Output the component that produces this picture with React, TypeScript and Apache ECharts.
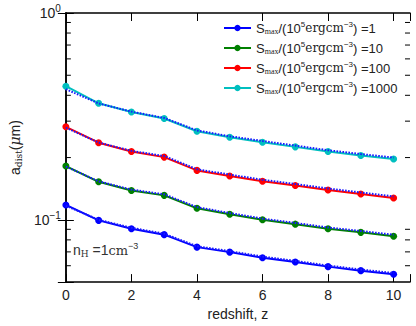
import React, { useEffect, useRef } from "react";
import * as echarts from "echarts";

const redshift = [0, 1, 2, 3, 4, 5, 6, 7, 8, 9, 10];
const smaxLabels = ["1", "10", "100", "1000"];
const colors = ["#0000ff", "#008000", "#ff0000", "#00bfbf"];

const aS1 = [0.118, 0.0994, 0.0906, 0.0848, 0.0738, 0.0698, 0.0656, 0.0626, 0.0594, 0.0568, 0.0546];
const aS10 = [0.182, 0.1527, 0.1387, 0.1313, 0.1138, 0.1064, 0.1, 0.0953, 0.0905, 0.087, 0.0833];
const aS100 = [0.2816, 0.236, 0.2138, 0.201, 0.1734, 0.163, 0.1537, 0.1466, 0.1393, 0.1332, 0.1274];
const aS1000 = [0.4425, 0.3658, 0.332, 0.309, 0.268, 0.2507, 0.2372, 0.2253, 0.2138, 0.2047, 0.1967];

const fitS1 = [0.117, 0.1, 0.0915, 0.0857, 0.0745, 0.0706, 0.0664, 0.0633, 0.0601, 0.0575, 0.0553];
const fitS10 = [0.181, 0.1535, 0.14, 0.1328, 0.1152, 0.1078, 0.1013, 0.0966, 0.0918, 0.0883, 0.0847];
const fitS100 = [0.279, 0.2365, 0.2155, 0.2035, 0.1755, 0.1655, 0.1562, 0.149, 0.1417, 0.1356, 0.1298];
const fitS1000 = [0.428, 0.3655, 0.3335, 0.311, 0.2705, 0.2535, 0.2405, 0.2285, 0.217, 0.208, 0.2];

const yMinorTicks = [0.06, 0.07, 0.08, 0.09, 0.2, 0.3, 0.4, 0.5, 0.6, 0.7, 0.8, 0.9];

const X_MIN = 0;
const X_MAX = 10.5;
const Y_MIN = 0.05;
const Y_MAX = 1;

const SANS = "'Liberation Sans', Arial, sans-serif";
const SERIF = "'DejaVu Serif', 'Liberation Serif', serif";
const SERIF2 = "'Liberation Serif', serif";

export default function App() {
  const ref = useRef<HTMLDivElement>(null);

  useEffect(() => {
    if (!ref.current) return;
    const chart = echarts.init(ref.current, null, { renderer: "svg" });

    const measured = [aS1, aS10, aS100, aS1000];
    const fits = [fitS1, fitS10, fitS100, fitS1000];
    const names = smaxLabels.map((s) => "Smax=" + s);

    const series: any[] = [];
    measured.forEach((arr, i) => {
      series.push({
        name: names[i],
        type: "line",
        data: redshift.map((z, k) => [z, arr[k]]),
        color: colors[i],
        symbol: "circle",
        symbolSize: 7,
        lineStyle: { width: 2, color: colors[i] },
        itemStyle: { color: colors[i] },
        z: 2,
      });
    });
    fits.forEach((arr, i) => {
      series.push({
        name: "fit" + i,
        type: "line",
        data: redshift.map((z, k) => [z, arr[k]]),
        showSymbol: false,
        symbol: "none",
        lineStyle: { width: 2, color: "#1a1aff", type: [1.6, 1.4] },
        z: 3,
        silent: true,
      });
    });
    series.push({
      type: "custom",
      silent: true,
      data: yMinorTicks.map((v) => [X_MIN, v]),
      renderItem: (params: any, api: any) => {
        const v = api.value(1);
        const pl = api.coord([X_MIN, v]);
        const pr = api.coord([X_MAX, v]);
        return {
          type: "group",
          children: [
            { type: "line", shape: { x1: pl[0], y1: pl[1], x2: pl[0] + 5, y2: pl[1] }, style: { stroke: "#000", lineWidth: 1 } },
            { type: "line", shape: { x1: pr[0] - 5, y1: pr[1], x2: pr[0], y2: pr[1] }, style: { stroke: "#000", lineWidth: 1 } },
          ],
        };
      },
      z: 5,
    });

    const supFmt = (v: number) => {
      const l = Math.log10(v);
      const e = Math.round(l);
      if (Math.abs(l - e) > 1e-6) return "";
      return `{b|10}{e|${e === 0 ? "0" : "−" + -e}}`;
    };

    const axisCommon = {
      axisLine: { show: true, lineStyle: { color: "#000", width: 1.5 } },
      splitLine: { show: false },
    };

    chart.setOption({
      animation: false,
      backgroundColor: "#fff",
      grid: { left: 57, right: 6, top: 13, bottom: 41, containLabel: false },
      legend: {
        data: names,
        orient: "vertical",
        left: 218,
        top: 15,
        itemWidth: 27,
        itemHeight: 8,
        itemGap: 4,
        formatter: (name: string) => {
          const i = names.indexOf(name);
          return `{s|S}{sub|max}{s|/(10}{sup|5}{rm|ergcm}{sup|−3}{t|) =${smaxLabels[i]}}`;
        },
        textStyle: {
          color: "#222",
          fontSize: 13,
          fontFamily: SANS,
          rich: {
            s: { fontSize: 13, fontFamily: SANS, color: "#222", lineHeight: 18 },
            t: { fontSize: 13, fontFamily: SANS, color: "#222", lineHeight: 18 },
            sub: { fontSize: 8, fontFamily: SERIF2, color: "#222", lineHeight: 10, padding: [6, 0, 0, 0] },
            sup: { fontSize: 8, fontFamily: SANS, color: "#222", lineHeight: 10, padding: [0, 0, 8, 0] },
            rm: { fontSize: 12, fontFamily: SERIF, color: "#222", lineHeight: 18 },
          },
        },
      },
      xAxis: [
        {
          type: "value",
          min: X_MIN,
          max: X_MAX,
          interval: 2,
          position: "bottom",
          name: "redshift, z",
          nameLocation: "middle",
          nameGap: 24,
          nameTextStyle: { fontFamily: SANS, fontSize: 14, color: "#222" },
          ...axisCommon,
          axisTick: { show: true, inside: true, length: 8, lineStyle: { color: "#000", width: 1 } },
          axisLabel: {
            fontFamily: SANS,
            fontSize: 14,
            color: "#222",
            margin: 6,
            formatter: (v: number) => (Math.abs(v % 2) < 1e-9 ? String(v) : ""),
          },
        },
        {
          type: "value",
          min: X_MIN,
          max: X_MAX,
          interval: 2,
          position: "top",
          ...axisCommon,
          axisTick: { show: true, inside: true, length: 8, lineStyle: { color: "#000", width: 1 } },
          axisLabel: { show: false },
        },
      ],
      yAxis: [
        {
          type: "log",
          logBase: 10,
          min: Y_MIN,
          max: Y_MAX,
          position: "left",
          name: "{a|a}{d|dist}{a|(}{mu|μ}{a|m)}",
          nameLocation: "middle",
          nameGap: 32,
          nameRotate: 90,
          nameTextStyle: {
            rich: {
              a: { fontFamily: SANS, fontSize: 14, color: "#222" },
              d: { fontFamily: SERIF, fontSize: 9, color: "#222", padding: [7, 0, 0, 0] },
              mu: { fontFamily: SERIF, fontSize: 14, fontStyle: "italic", color: "#222" },
            },
          },
          ...axisCommon,
          axisTick: { show: true, inside: true, length: 8, lineStyle: { color: "#000", width: 1 } },
          minorTick: { show: false },
          axisLabel: {
            formatter: supFmt,
            margin: 5,
            rich: {
              b: { fontFamily: SANS, fontSize: 14, color: "#222" },
              e: { fontFamily: SANS, fontSize: 10, color: "#222", padding: [0, 0, 9, 0] },
            },
          },
        },
        {
          type: "log",
          logBase: 10,
          min: Y_MIN,
          max: Y_MAX,
          position: "right",
          ...axisCommon,
          axisTick: { show: true, inside: true, length: 8, lineStyle: { color: "#000", width: 1 } },
          axisLabel: { show: false },
        },
      ],
      graphic: [
        {
          type: "text",
          left: 73,
          top: 241,
          style: {
            text: "{a|n}{s|H}{a| =1}{r|cm}{p|−3}",
            rich: {
              a: { fontFamily: SANS, fontSize: 14, fill: "#333" },
              s: { fontFamily: SERIF, fontSize: 9, fill: "#333", padding: [7, 0, 0, 0] },
              r: { fontFamily: SERIF, fontSize: 13, fill: "#333" },
              p: { fontFamily: SANS, fontSize: 9, fill: "#333", padding: [0, 0, 9, 0] },
            },
          },
        },
      ],
      series,
    });

    return () => chart.dispose();
  }, []);

  return <div ref={ref} style={{ width: 416, height: 326, position: "absolute", left: 0, top: 0 }} />;
}
